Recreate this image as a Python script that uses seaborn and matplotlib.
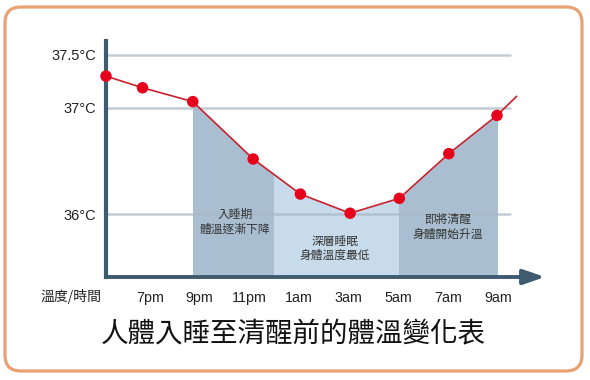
import numpy as np
import pandas as pd
import seaborn as sns
import matplotlib
matplotlib.use('Agg')
import matplotlib.pyplot as plt
from matplotlib.patches import Rectangle, FancyBboxPatch

# data (hours on a 24h clock running past midnight, 19 = 7pm, 33 = 9am)
hours = [17.23, 18.7, 20.72, 23.15, 25.05, 27.05, 29.03, 31.02, 32.96]
temps = [37.30, 37.19, 37.06, 36.52, 36.19, 36.01, 36.15, 36.57, 36.93]
line_end_hour = 33.75
line_end_temp = 37.11

tick_hours = [19, 21, 23, 25, 27, 29, 31, 33]
tick_labels = ['7pm', '9pm', '11pm', '1am', '3am', '5am', '7am', '9am']
grid_temps = [36, 37, 37.5]
grid_labels = ['36°C', '37°C', '37.5°C']

phases = [(20.72, 24.0), (24.0, 29.03), (29.03, 32.96)]
phase_colors = ['#A9BFD1', '#C8DBEB', '#A9BFD1']
phase_text = ['入睡期\n體溫逐漸下降', '深層睡眠\n身體溫度最低', '即將清醒\n身體開始升溫']
phase_text_pos = [(22.42, 35.93), (26.45, 35.68), (30.98, 35.88)]

title = '人體入睡至清醒前的體溫變化表'
axis_label = '溫度/時間'

sns.set_style('white')
plt.rcParams['font.family'] = ['Noto Sans CJK TC', 'DejaVu Sans']
latin = ['Liberation Sans', 'Noto Sans CJK TC']

axis_col = '#3E5B70'
x0, x1 = 17.23, 34.89
y0, y1 = 35.41, 37.63

fig = plt.figure(figsize=(5.9, 3.8), dpi=100)
ax = fig.add_axes([106 / 590, 1 - 277 / 380, (545 - 106) / 590, (277 - 41) / 380])
ax.set_xlim(x0, x1)
ax.set_ylim(y0, y1)

line_df = pd.DataFrame({'hour': hours + [line_end_hour], 'temp': temps + [line_end_temp]})
pts_df = pd.DataFrame({'hour': hours, 'temp': temps})

# shaded phases under the curve
for (a, b), c in zip(phases, phase_colors):
    poly = ax.fill_between(line_df['hour'], line_df['temp'], y0, color=c, lw=0, zorder=1)
    clip = Rectangle((a, y0), b - a, y1 - y0, transform=ax.transData)
    poly.set_clip_path(clip)

# grid lines
for t in grid_temps:
    ax.axhline(t, xmin=0, xmax=(33.48 - x0) / (x1 - x0), color='#A9B7C4', alpha=0.7, lw=1.8, zorder=2)

sns.lineplot(data=line_df, x='hour', y='temp', ax=ax, color='#C8202C', lw=1.2, zorder=3)
sns.scatterplot(data=pts_df, x='hour', y='temp', ax=ax, color='#E6001B', s=68,
                edgecolor='none', zorder=4, clip_on=False)

for txt, (tx, ty) in zip(phase_text, phase_text_pos):
    ax.text(tx, ty, txt, ha='center', va='center', fontsize=8.5, color='#333333', linespacing=1.15, zorder=5)

# axes
for s in ['top', 'right', 'bottom']:
    ax.spines[s].set_visible(False)
ax.spines['left'].set_color(axis_col)
ax.spines['left'].set_linewidth(3)
ax.annotate('', xy=(1, 0), xytext=(0, 0), xycoords='axes fraction', textcoords='axes fraction',
            arrowprops=dict(arrowstyle='-|>,head_length=1.3,head_width=0.45', lw=2.8,
                            color=axis_col, shrinkA=0, shrinkB=0), zorder=6)

ax.set_xticks(tick_hours)
ax.set_xticklabels(tick_labels, fontfamily=latin, fontsize=10.3, color='#222222')
ax.set_yticks(grid_temps)
ax.set_yticklabels(grid_labels, fontfamily=latin, fontsize=10.5, color='#222222')
ax.tick_params(axis='x', length=0, pad=10)
ax.tick_params(axis='y', length=0, pad=7)
ax.set_xlabel('')
ax.set_ylabel('')

fig.text(71 / 590, 1 - 296 / 380, axis_label, ha='center', va='center', fontsize=10, color='#222222')
fig.text(293 / 590, 1 - 335 / 380, title, ha='center', va='center', fontsize=19.8, color='#111111')

# rounded orange frame
frame = FancyBboxPatch((5, 9), 577, 364, boxstyle='round,pad=0,rounding_size=16',
                       fill=False, ec='#E9A274', lw=2.3, transform=None)
fig.add_artist(frame)

fig.savefig('out.png', dpi=100)
